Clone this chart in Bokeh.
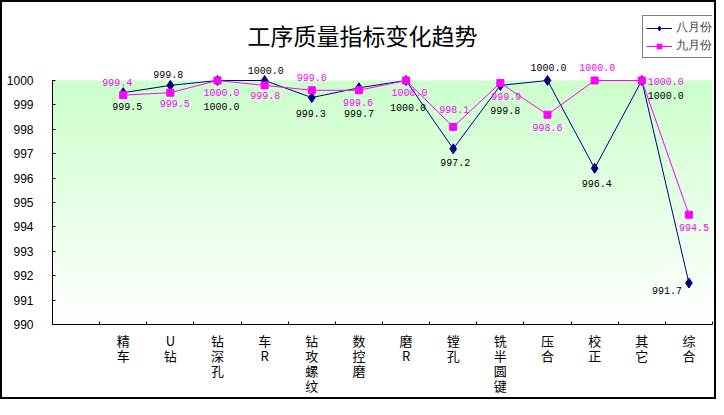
import numpy as np
from bokeh.plotting import figure
from bokeh.models import (FactorRange, Range1d, LinearAxis, CategoricalAxis, FixedTicker,
                          ColumnDataSource, Legend, LegendItem, Label, InlineStyleSheet)
from bokeh.core.properties import value
from bokeh.embed import file_html
from bokeh.resources import INLINE

# ---------------- data ----------------
title_text = "工序质量指标变化趋势"
categories = ["精车", "U钻", "钻深孔", "车R", "钻攻螺纹", "数控磨", "磨R",
              "镗孔", "铣半圆键", "压合", "校正", "其它", "综合"]
aug_name = "八月份"
sep_name = "九月份"
aug = [999.5, 999.8, 1000.0, 1000.0, 999.3, 999.7, 1000.0, 997.2, 999.8, 1000.0, 996.4, 1000.0, 991.7]
sep = [999.4, 999.5, 1000.0, 999.8, 999.6, 999.6, 1000.0, 998.1, 999.9, 998.6, 1000.0, 1000.0, 994.5]
y_ticks = [990, 991, 992, 993, 994, 995, 996, 997, 998, 999, 1000]

# ---------------- label placement (style, pixels) ----------------
aug_dx = [4, -2, 4, 1, -1, 0, 2, 2, 5, 1, 2, 24, -22]
aug_dy = [14, -10.5, 26, -10, 16, 26, 26.5, 14, 25.6, -13.5, 15, 14.5, 7]
sep_dx = [-6, 4.5, 4, 0.5, 0, -1, 3.5, 1, 6, 0, 2.5, 24, 5]
sep_dy = [-12.6, 11, 11.5, 10, -13, 12, 11.5, -17, 14, 13, -13.5, 1, 13]

NAVY = "#000080"
MAGENTA = "#FF00FF"

factors = [" "] + ["\n".join(list(c)) for c in categories]
n_cat = len(factors)

FRAME_W, FRAME_H = 660, 324
px_per_unit = 244 / 10.0
y_top = 1000 + 80 / px_per_unit

border_css = InlineStyleSheet(css="""
:host::after {
  content: "";
  position: absolute;
  left: 0; top: 0; right: 0; bottom: 0;
  border: 2px solid black;
  pointer-events: none;
  z-index: 100;
}
""")

p = figure(frame_width=FRAME_W, frame_height=FRAME_H, output_backend="svg", toolbar_location=None,
           x_range=FactorRange(factors=factors, range_padding=0),
           y_range=Range1d(990, y_top), x_axis_location=None,
           min_border_left=52, min_border_right=4, min_border_top=0,
           min_border_bottom=75, stylesheets=[border_css])
p.outline_line_color = None
p.background_fill_color = "white"
p.border_fill_color = "white"
p.xgrid.visible = False
p.ygrid.visible = False

# gradient background of plot area
ng = 200
t = np.linspace(0, 1, ng)
img = np.zeros((ng, 1, 4), dtype=np.uint8)
rb = (255 - (255 - 204) * t).astype(np.uint8)
img[:, 0, 0] = rb
img[:, 0, 1] = 255
img[:, 0, 2] = rb
img[:, 0, 3] = 255
img32 = img.view(np.uint32).reshape(ng, 1)
p.image_rgba(image=[img32], x=0, y=y_ticks[0], dw=n_cat, dh=y_ticks[-1] - y_ticks[0])

# y axis
yax = p.yaxis[0]
yax.ticker = FixedTicker(ticks=y_ticks)
yax.bounds = (y_ticks[0], y_ticks[-1])
yax.major_tick_in = 3
yax.major_tick_out = 0
yax.minor_tick_line_color = None
yax.axis_line_color = "black"
yax.major_tick_line_color = "black"
yax.major_label_text_font = "Liberation Sans"
yax.major_label_text_font_size = "12px"
yax.major_label_text_color = "black"
yax.major_label_standoff = 19

# x axes: boundary ticks (minor, unlabeled) + centered category labels
tick_axis = LinearAxis(ticker=FixedTicker(ticks=[], minor_ticks=list(range(n_cat + 1))),
                       minor_tick_in=3, minor_tick_out=0, minor_tick_line_color="black",
                       major_tick_line_color=None, major_label_standoff=0,
                       axis_line_color="black")
p.add_layout(tick_axis, "below")
cat_axis = CategoricalAxis(major_tick_line_color=None, axis_line_color=None,
                           minor_tick_line_color=None,
                           major_label_text_font="Noto Sans CJK SC",
                           major_label_text_font_size="13px",
                           major_label_text_line_height=0.8,
                           major_label_text_color="black",
                           major_label_standoff=0)
p.add_layout(cat_axis, "below")

xs = factors[1:]
src_a = ColumnDataSource(dict(x=xs, y=aug, t=["%.1f" % v for v in aug], dx=aug_dx, dy=aug_dy))
src_s = ColumnDataSource(dict(x=xs, y=sep, t=["%.1f" % v for v in sep], dx=sep_dx, dy=sep_dy))

l1 = p.line("x", "y", source=src_a, line_color=NAVY, line_width=1)
s1 = p.scatter("x", "y", source=src_a, marker="diamond", size=10, fill_color=NAVY, line_color=NAVY)
l2 = p.line("x", "y", source=src_s, line_color=MAGENTA, line_width=1)
s2 = p.scatter("x", "y", source=src_s, marker="square", size=7, fill_color=MAGENTA, line_color=MAGENTA)

p.text("x", "y", text="t", source=src_a, x_offset="dx", y_offset="dy",
       text_align="center", text_baseline="middle", text_font=value("Liberation Mono"),
       text_font_size="10px", text_color="black")
p.text("x", "y", text="t", source=src_s, x_offset="dx", y_offset="dy",
       text_align="center", text_baseline="middle", text_font=value("Liberation Mono"),
       text_font_size="10px", text_color=MAGENTA)

# title
title = Label(x=(362 - 52) / FRAME_W * n_cat, y=1000 + (80 - 34.5) / px_per_unit, text=title_text,
              text_align="center", text_baseline="middle", text_font="Noto Sans CJK SC",
              text_font_size="23px", text_color="black")
p.add_layout(title)

legend = Legend(items=[LegendItem(label=aug_name, renderers=[l1, s1]),
                       LegendItem(label=sep_name, renderers=[l2, s2])],
                location=(590, FRAME_H - 58), orientation="vertical",
                border_line_color="black", border_line_width=1,
                background_fill_color="white", background_fill_alpha=1,
                label_text_font="DejaVu Sans", label_text_font_size="12px",
                glyph_width=26, glyph_height=12, label_height=12, spacing=1,
                padding=3, margin=0, label_standoff=4)
p.add_layout(legend)

open("out.html", "w").write(file_html(p, INLINE))
